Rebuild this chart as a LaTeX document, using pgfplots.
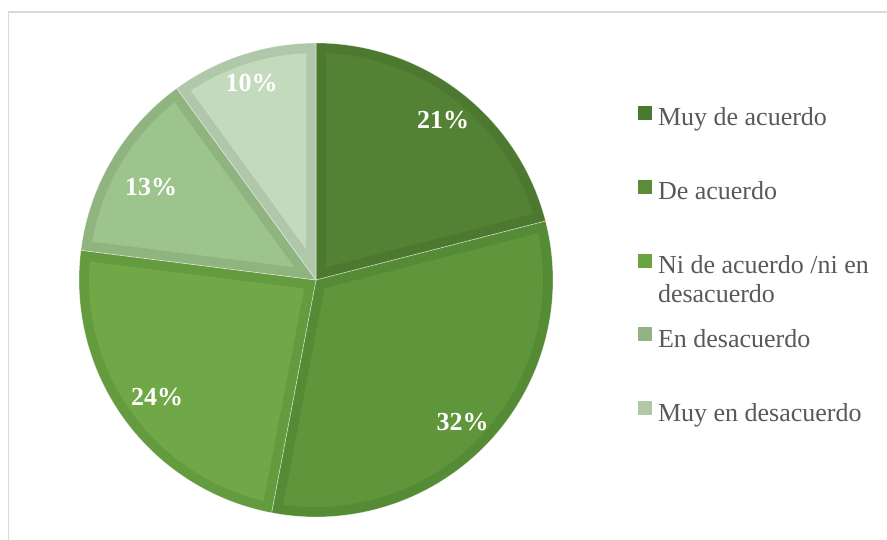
\documentclass[border=0pt]{standalone}
\usepackage{pgfplots}
\pgfplotsset{compat=1.18}
\usepackage{pgfplotstable}
\usepackage{fontspec}
\setmainfont{Liberation Serif}

% slice colours: band (border) and inner fill
\definecolor{sb0}{RGB}{76,121,47}
\definecolor{sf0}{RGB}{84,130,53}
\definecolor{sb1}{RGB}{86,139,54}
\definecolor{sf1}{RGB}{95,150,60}
\definecolor{sb2}{RGB}{99,155,62}
\definecolor{sf2}{RGB}{112,168,71}
\definecolor{sb3}{RGB}{143,180,128}
\definecolor{sf3}{RGB}{158,196,142}
\definecolor{sb4}{RGB}{177,199,170}
\definecolor{sf4}{RGB}{196,218,189}
% legend squares
\definecolor{lg0}{RGB}{74,122,46}
\definecolor{lg1}{RGB}{90,140,58}
\definecolor{lg2}{RGB}{106,163,66}
\definecolor{lg3}{RGB}{146,179,132}
\definecolor{lg4}{RGB}{176,200,168}
\definecolor{legtext}{RGB}{89,89,89}
\definecolor{framegray}{RGB}{217,217,217}

\pgfplotstableread{
pct
21
32
24
13
10
}\piedata

\begin{document}
\begin{tikzpicture}
\useasboundingbox (0,0) rectangle (887pt,540pt);
\draw[framegray, line width=1.5pt] (8.5pt,-20pt) -- (8.5pt,528pt) -- (900pt,528pt);

\def\pcx{316}\def\pcy{260}\def\pR{237}\def\pd{10}
\pgfmathsetmacro{\rin}{\pR-\pd}
\xdef\cum{0}
\foreach \i in {0,...,4}{%
  \pgfplotstablegetelem{\i}{pct}\of\piedata
  \let\p\pgfplotsretval
  \pgfmathsetmacro{\sa}{90-3.6*\cum}
  \pgfmathsetmacro{\newcum}{\cum+\p}
  \xdef\cum{\newcum}
  \pgfmathsetmacro{\sb}{90-3.6*\cum}
  \pgfmathsetmacro{\del}{asin(\pd/\rin)}
  \pgfmathsetmacro{\vr}{\pd/sin((\sa-\sb)/2)}
  \pgfmathsetmacro{\vx}{\pcx+\vr*cos((\sa+\sb)/2)}
  \pgfmathsetmacro{\vy}{\pcy+\vr*sin((\sa+\sb)/2)}
  \pgfmathsetmacro{\ia}{\sa-\del}
  \pgfmathsetmacro{\ib}{\sb+\del}
  \expandafter\xdef\csname A\i\endcsname{\sa}
  \expandafter\xdef\csname B\i\endcsname{\sb}
  \expandafter\xdef\csname IA\i\endcsname{\ia}
  \expandafter\xdef\csname IB\i\endcsname{\ib}
  \expandafter\xdef\csname VX\i\endcsname{\vx}
  \expandafter\xdef\csname VY\i\endcsname{\vy}
}

\begin{axis}[
  x=1pt, y=1pt,
  xmin=0, xmax=887, ymin=0, ymax=540,
  at={(0pt,0pt)}, anchor=origin,
  hide axis, clip=false,
  legend cell align=left,
  legend image code/.code={\fill[#1, draw=none] (0pt,0pt) rectangle (14pt,14pt);},
  legend style={at={(axis cs:638,434)}, anchor=north west,
    draw=none, fill=none, inner sep=0pt, outer sep=0pt,
    row sep=48.8pt,
    nodes={inner sep=0pt, text height=17pt, text depth=5pt,
      font=\fontsize{26}{29}\selectfont, text=legtext},
    /tikz/every odd column/.append style={column sep=6pt}},
]
\pgfplotsforeachungrouped \i in {0,...,4}{%
  \edef\temp{\noexpand\addplot[forget plot, fill=sb\i, draw=white, draw opacity=0.5, line width=0.6pt,
      domain=\csname B\i\endcsname:\csname A\i\endcsname, samples=90, variable=\noexpand\t]
      ({\pcx+\pR*cos(\noexpand\t)},{\pcy+\pR*sin(\noexpand\t)}) -- (axis cs:\pcx,\pcy) -- cycle;
    \noexpand\addplot[forget plot, fill=sf\i, draw=none,
      domain=\csname IB\i\endcsname:\csname IA\i\endcsname, samples=90, variable=\noexpand\t]
      ({\pcx+\rin*cos(\noexpand\t)},{\pcy+\rin*sin(\noexpand\t)})
      -- (axis cs:\csname VX\i\endcsname,\csname VY\i\endcsname) -- cycle;}%
  \temp
}

\addplot[forget plot, only marks, mark=none, point meta=explicit symbolic,
  nodes near coords,
  nodes near coords style={anchor=center, text=white, inner sep=0pt,
    font=\bfseries\fontsize{26}{30}\selectfont}]
  coordinates {(443,420)[21\%] (462.5,117.5)[32\%] (157,143)[24\%] (151,353)[13\%] (251.5,456.5)[10\%]};

\addlegendimage{fill=lg0}\addlegendentry{Muy de acuerdo}
\addlegendimage{fill=lg1}\addlegendentry{De acuerdo}
\addlegendimage{fill=lg2}\addlegendentry{{\begin{tabular}[t]{@{}l@{}}Ni de acuerdo /ni en\\desacuerdo\end{tabular}}}
\addlegendimage{fill=lg3}\addlegendentry{En desacuerdo}
\addlegendimage{fill=lg4}\addlegendentry{Muy en desacuerdo}
\end{axis}
\end{tikzpicture}
\end{document}
